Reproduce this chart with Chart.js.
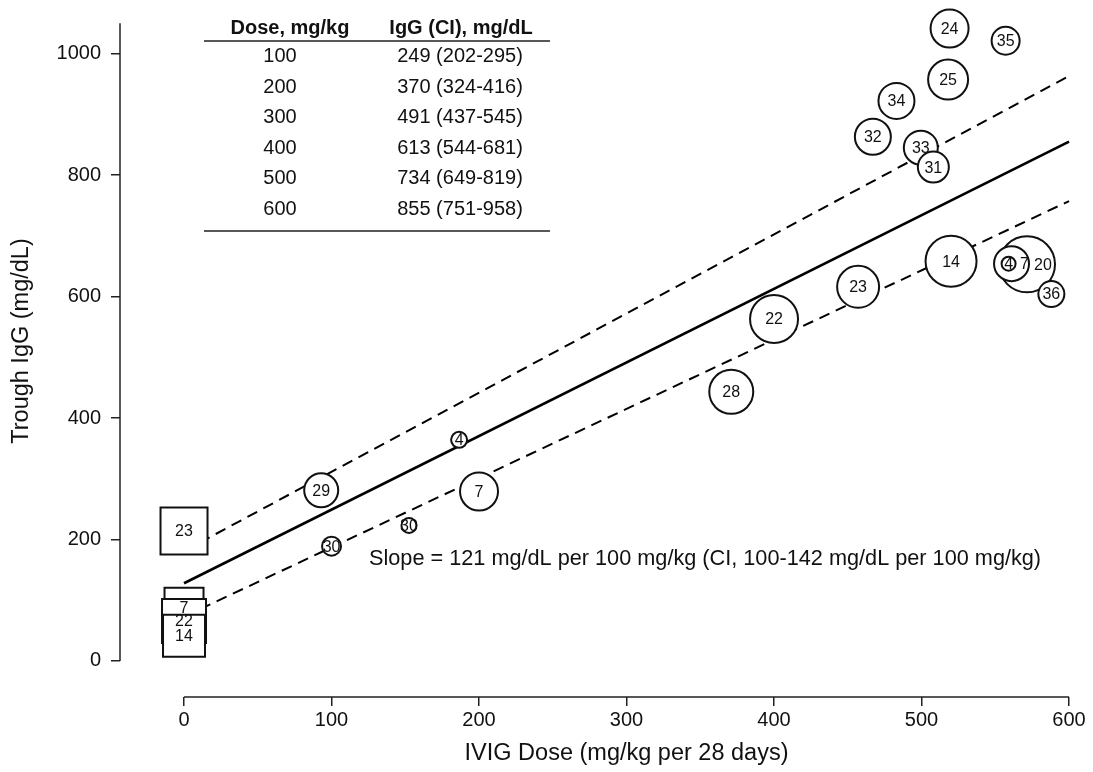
<!DOCTYPE html>
<html>
<head>
<meta charset="utf-8">
<script src="https://cdn.jsdelivr.net/npm/chart.js@4.4.1/dist/chart.umd.min.js"></script>
<style>
  html, body { margin: 0; padding: 0; background: #fff; }
  #wrap { width: 1093px; height: 772px; }
</style>
</head>
<body>
<div id="wrap"><canvas id="chart"></canvas></div>
<script>
const FONT = '"Liberation Sans", Arial, Helvetica, sans-serif';

// patients on IVIG (circles) - listed in drawing order, big ones first
const circleLabels = ['20', '14', '22', '28', '23', '25', '24', '7', '7', '34', '32', '33', '29', '31', '35', '36', '30', '4', '30', '4'];
const circleDose = [571.5, 520, 400, 371, 457, 518, 519, 200, 561, 483, 467, 499.5, 93, 508, 557, 588, 100, 186.5, 152.5, 559];
const circleIgG = [653, 658, 563, 443, 616, 957, 1041, 279, 654, 922, 863, 845, 281, 813, 1021, 604, 189, 364, 223, 654];
const circleSize = [28, 25.5, 24, 22, 21, 20, 19, 19, 17.5, 18, 18, 17, 17, 15.5, 14, 13, 9.5, 8, 7.5, 7];

// untreated patients (squares at dose 0)
const squareLabels = ['23', '7', '22', '14'];
const squareDose = [0, 0, 0, 0];
const squareIgG = [214, 88.5, 66, 41.5];
const squareSize = [23.5, 19.5, 22, 21];

// fitted line and its limits
const lineDose = [0, 600];
const fitIgG = [128, 855];
const upperIgG = [181, 963];
const lowerIgG = [73, 757];

const xTicks = [0, 100, 200, 300, 400, 500, 600];
const yTicks = [0, 200, 400, 600, 800, 1000];

const tableDose = ['100', '200', '300', '400', '500', '600'];
const tableIgG = ['249 (202-295)', '370 (324-416)', '491 (437-545)', '613 (544-681)', '734 (649-819)', '855 (751-958)'];
const slopeText = 'Slope = 121 mg/dL per 100 mg/kg (CI, 100-142 mg/dL per 100 mg/kg)';
const xTitle = 'IVIG Dose (mg/kg per 28 days)';
const yTitle = 'Trough IgG (mg/dL)';

// a couple of labels were nudged right in the original to avoid overlap
const labelNudge = { 0: 16, 8: 13 };

const circlePts = circleDose.map((x, i) => ({ x, y: circleIgG[i], r: circleSize[i] }));
const squarePts = squareDose.map((x, i) => ({ x, y: squareIgG[i], r: squareSize[i] / Math.SQRT1_2 }));
const linePts = ys => lineDose.map((x, i) => ({ x, y: ys[i] }));

// R-style detached axis lines, axis titles, table and slope note
const extras = {
  id: 'extras',
  beforeDatasetsDraw(chart) {
    const { ctx, chartArea, scales: { x, y } } = chart;
    ctx.save();
    ctx.strokeStyle = '#222';
    ctx.lineWidth = 1.5;
    ctx.beginPath();
    ctx.moveTo(x.getPixelForValue(0), chartArea.bottom);
    ctx.lineTo(x.getPixelForValue(600), chartArea.bottom);
    ctx.moveTo(chartArea.left, y.getPixelForValue(0));
    ctx.lineTo(chartArea.left, y.getPixelForValue(1050));
    ctx.stroke();

    // axis titles (R centres them on the data range)
    ctx.fillStyle = '#111';
    ctx.textAlign = 'center';
    ctx.textBaseline = 'middle';
    ctx.font = '23.5px ' + FONT;
    ctx.fillText(xTitle, x.getPixelForValue(300), 754);
    ctx.translate(22, 341);
    ctx.rotate(-Math.PI / 2);
    ctx.fillText(yTitle, 0, 0);
    ctx.restore();
  },
  afterDatasetsDraw(chart) {
    const { ctx, scales: { x, y } } = chart;
    ctx.save();
    ctx.fillStyle = '#111';
    ctx.textAlign = 'center';
    ctx.textBaseline = 'middle';
    ctx.font = '16px ' + FONT;
    chart.getDatasetMeta(0).data.forEach((el, i) => {
      ctx.fillText(circleLabels[i], el.x + (labelNudge[i] || 0), el.y + 1);
    });
    chart.getDatasetMeta(1).data.forEach((el, i) => {
      ctx.fillText(squareLabels[i], el.x, el.y + 1);
    });

    // slope note
    ctx.textAlign = 'left';
    ctx.font = '21.7px ' + FONT;
    ctx.fillText(slopeText, x.getPixelForValue(125.4), y.getPixelForValue(168));

    // table
    ctx.textAlign = 'center';
    ctx.font = 'bold 20px ' + FONT;
    ctx.fillText('Dose, mg/kg', 290, 28);
    ctx.fillText('IgG (CI), mg/dL', 461, 28);
    ctx.font = '20px ' + FONT;
    tableDose.forEach((d, i) => {
      const ty = 56.5 + i * 30.6;
      ctx.fillText(d, 280, ty);
      ctx.fillText(tableIgG[i], 460, ty);
    });
    ctx.strokeStyle = '#222';
    ctx.lineWidth = 1.5;
    ctx.beginPath();
    ctx.moveTo(204, 41); ctx.lineTo(550, 41);
    ctx.moveTo(204, 231); ctx.lineTo(550, 231);
    ctx.stroke();
    ctx.restore();
  }
};

const tickFont = { family: FONT, size: 20 };
const noPad = s => { s.paddingLeft = 0; s.paddingRight = 0; s.paddingTop = 0; s.paddingBottom = 0; };

new Chart(document.getElementById('chart'), {
  type: 'bubble',
  data: {
    datasets: [
      { data: circlePts, pointStyle: 'circle', backgroundColor: '#fff', borderColor: '#111', borderWidth: 2, order: 1 },
      { data: squarePts, pointStyle: 'rect', backgroundColor: '#fff', borderColor: '#111', borderWidth: 2, order: 1 },
      { type: 'line', data: linePts(fitIgG), borderColor: '#000', borderWidth: 2.6, pointRadius: 0, fill: false, order: 2 },
      { type: 'line', data: linePts(upperIgG), borderColor: '#000', borderWidth: 2, borderDash: [11, 7], pointRadius: 0, fill: false, order: 2 },
      { type: 'line', data: linePts(lowerIgG), borderColor: '#000', borderWidth: 2, borderDash: [11, 7], pointRadius: 0, fill: false, order: 2 }
    ]
  },
  options: {
    responsive: true,
    maintainAspectRatio: false,
    devicePixelRatio: 1,
    animation: false,
    events: [],
    layout: { autoPadding: false, padding: { left: 0, right: 3, top: 8, bottom: 0 } },
    plugins: { legend: { display: false }, tooltip: { enabled: false } },
    scales: {
      x: {
        type: 'linear',
        min: -43.4,
        max: 614.2,
        afterFit: s => { s.height = 75; noPad(s); },
        afterBuildTicks: s => { s.ticks = xTicks.map(v => ({ value: v })); },
        border: { display: false },
        grid: { drawOnChartArea: false, drawTicks: true, tickLength: 9, color: '#222', lineWidth: 1.5 },
        ticks: { font: tickFont, color: '#111', padding: 2, maxRotation: 0, autoSkip: false, callback: v => String(v) }
      },
      y: {
        type: 'linear',
        min: -59.3,
        max: 1074.9,
        afterFit: s => { s.width = 120; noPad(s); },
        afterBuildTicks: s => { s.ticks = yTicks.map(v => ({ value: v })); },
        border: { display: false },
        grid: { drawOnChartArea: false, drawTicks: true, tickLength: 9, color: '#222', lineWidth: 1.5 },
        ticks: { font: tickFont, color: '#111', padding: 10, callback: v => String(v) }
      }
    }
  },
  plugins: [extras]
});
</script>
</body>
</html>
